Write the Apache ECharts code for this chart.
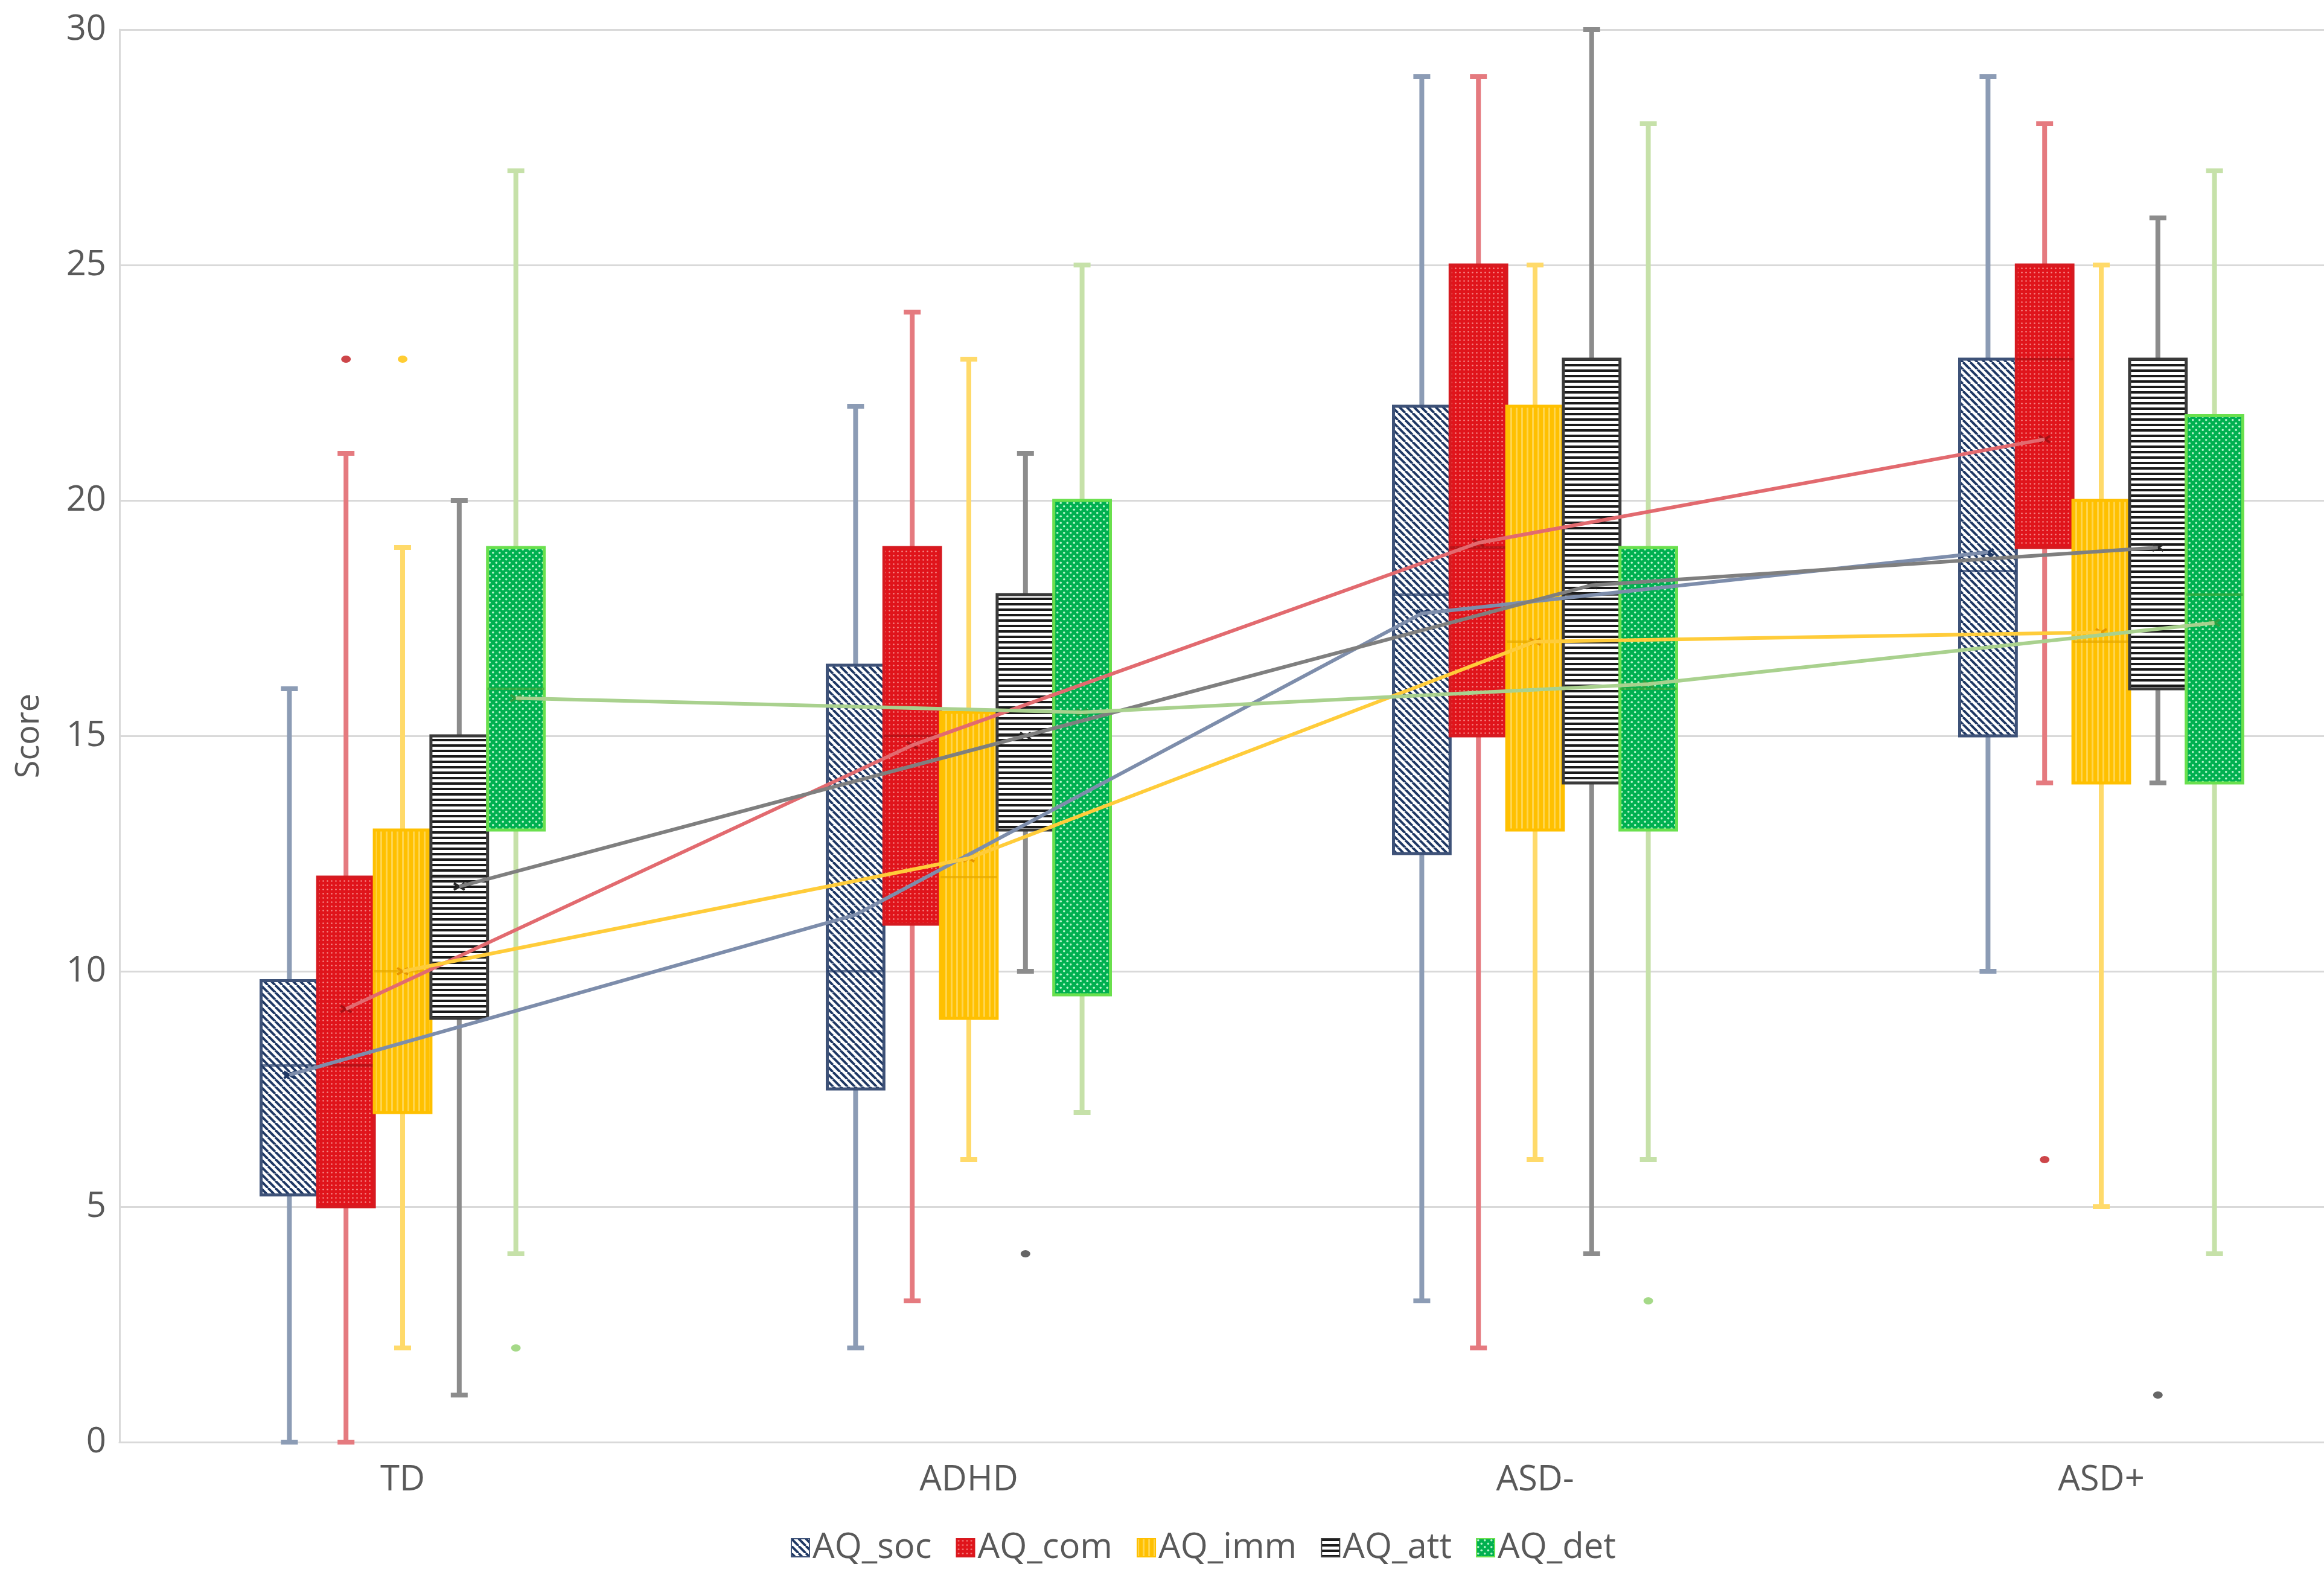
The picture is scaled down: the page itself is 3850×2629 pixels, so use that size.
<!DOCTYPE html>
<html>
<head>
<meta charset="utf-8">
<title>AQ subscales</title>
<script src="https://cdn.jsdelivr.net/npm/echarts/dist/echarts.min.js"></script>
<style>
  html, body { margin: 0; padding: 0; background: #fff; overflow: hidden; }
  #main { width: 3850px; height: 2629px; }
</style>
</head>
<body>
<div id="main"></div>
<script>
// 分组 / 子量表
var categories = ['TD', 'ADHD', 'ASD-', 'ASD+'];
var seriesNames = ['AQ_soc', 'AQ_com', 'AQ_imm', 'AQ_att', 'AQ_det'];

// 每组 [min, Q1, median, Q3, max]
var socBox = [[0, 5.25, 8, 9.8, 16], [2, 7.5, 10, 16.5, 22], [3, 12.5, 18, 22, 29], [10, 15, 18.5, 23, 29]];
var comBox = [[0, 5, 8, 12, 21], [3, 11, 15, 19, 24], [2, 15, 19, 25, 29], [14, 19, 23, 25, 28]];
var immBox = [[2, 7, 10, 13, 19], [6, 9, 12, 15.5, 23], [6, 13, 17, 22, 25], [5, 14, 17, 20, 25]];
var attBox = [[1, 9, 12, 15, 20], [10, 13, 15, 18, 21], [4, 14, 18, 23, 30], [14, 16, 20, 23, 26]];
var detBox = [[4, 13, 16, 19, 27], [7, 9.5, 15.5, 20, 25], [6, 13, 16, 19, 28], [4, 14, 18, 21.8, 27]];

// 均值
var socMean = [7.8, 11.2, 17.6, 18.9];
var comMean = [9.2, 14.8, 19.1, 21.3];
var immMean = [10.0, 12.4, 17.0, 17.2];
var attMean = [11.8, 15.0, 18.2, 19.0];
var detMean = [15.8, 15.5, 16.1, 17.4];

// 离群点 [组序号, 值]
var socOut = [];
var comOut = [[0, 23], [3, 6]];
var immOut = [[0, 23]];
var attOut = [[1, 4], [3, 1]];
var detOut = [[0, 2], [2, 3]];

var yTicks = { min: 0, max: 30, interval: 5 };

//生成填充纹理
function makePattern(kind, bg, fg) {
    var c = document.createElement('canvas'), ctx = c.getContext('2d'), s;
    if (kind == 'diag') {
        s = 12; c.width = c.height = s;
        ctx.fillStyle = bg; ctx.fillRect(0, 0, s, s);
        ctx.strokeStyle = fg; ctx.lineWidth = 4;
        [-s, 0, s].forEach(function (o) {
            ctx.beginPath(); ctx.moveTo(o, 0); ctx.lineTo(o + s, s); ctx.stroke();
        });
    } else if (kind == 'dots') {
        s = 7; c.width = c.height = s;
        ctx.fillStyle = bg; ctx.fillRect(0, 0, s, s);
        ctx.fillStyle = fg;
        ctx.beginPath(); ctx.arc(3.5, 3.5, 1.3, 0, Math.PI * 2); ctx.fill();
    } else if (kind == 'vstripe') {
        s = 9; c.width = c.height = s;
        ctx.fillStyle = bg; ctx.fillRect(0, 0, s, s);
        ctx.fillStyle = fg; ctx.fillRect(0, 0, 3, s);
    } else if (kind == 'hstripe') {
        s = 9; c.width = c.height = s;
        ctx.fillStyle = bg; ctx.fillRect(0, 0, s, s);
        ctx.fillStyle = fg; ctx.fillRect(0, 0, s, 4);
    } else {
        s = 11; c.width = c.height = s;
        ctx.fillStyle = bg; ctx.fillRect(0, 0, s, s);
        ctx.fillStyle = fg;
        ctx.beginPath(); ctx.arc(2.75, 2.75, 1.8, 0, Math.PI * 2); ctx.fill();
        ctx.beginPath(); ctx.arc(8.25, 8.25, 1.8, 0, Math.PI * 2); ctx.fill();
    }
    return { image: c, repeat: 'repeat' };
}

var looks = [
    { pattern: makePattern('diag', '#ffffff', '#1f3864'), border: '#3e5278', median: '#1f3864', whisker: '#8c9cb5', meanLine: '#7d8dab', mark: '#1f3864', dot: '#44546a' },
    { pattern: makePattern('dots', '#e0141b', '#f58a8a'), border: '#d61a20', median: '#a50f14', whisker: '#e57a7f', meanLine: '#e26a6f', mark: '#a50f14', dot: '#c0161c' },
    { pattern: makePattern('vstripe', '#ffc000', '#ffd54f'), border: '#ffc000', median: '#e6a800', whisker: '#ffda6a', meanLine: '#ffcc3a', mark: '#e69500', dot: '#ffc000' },
    { pattern: makePattern('hstripe', '#ffffff', '#1a1a1a'), border: '#3a3a3a', median: '#262626', whisker: '#8c8c8c', meanLine: '#7f7f7f', mark: '#262626', dot: '#404040' },
    { pattern: makePattern('diamond', '#00b050', '#b8f5cc'), border: '#6ae04e', median: '#38a838', whisker: '#c6e1a9', meanLine: '#a9d18e', mark: '#2e9e3e', dot: '#8fcf6a' }
];

var boxes = [socBox, comBox, immBox, attBox, detBox];
var means = [socMean, comMean, immMean, attMean, detMean];
var outs = [socOut, comOut, immOut, attOut, detOut];
var step = 0.1; // 每个箱子的宽度 (类目宽度的比例)

function boxRender(st) {
    return function (params, api) {
        var x = api.value(0),
            w = api.size([step, 0])[0],
            pMin = api.coord([x, api.value(1)]),
            pQ1 = api.coord([x, api.value(2)]),
            pMed = api.coord([x, api.value(3)]),
            pQ3 = api.coord([x, api.value(4)]),
            pMax = api.coord([x, api.value(5)]),
            pMean = api.coord([x, api.value(6)]),
            cx = pMed[0], cap = 14, m = 9;
        var wStyle = { stroke: st.whisker, lineWidth: 8 };
        return {
            type: 'group',
            children: [
                { type: 'line', shape: { x1: cx, y1: pMax[1], x2: cx, y2: pMin[1] }, style: wStyle },
                { type: 'line', shape: { x1: cx - cap, y1: pMax[1], x2: cx + cap, y2: pMax[1] }, style: wStyle },
                { type: 'line', shape: { x1: cx - cap, y1: pMin[1], x2: cx + cap, y2: pMin[1] }, style: wStyle },
                { type: 'rect', shape: { x: cx - w / 2, y: pQ3[1], width: w, height: pQ1[1] - pQ3[1] },
                  style: { fill: st.pattern, stroke: st.border, lineWidth: 5 } },
                { type: 'line', shape: { x1: cx - w / 2, y1: pMed[1], x2: cx + w / 2, y2: pMed[1] },
                  style: { stroke: st.median, lineWidth: 4, opacity: 0.7 } },
                { type: 'line', shape: { x1: cx - m, y1: pMean[1] - m * 0.6, x2: cx + m, y2: pMean[1] + m * 0.6 },
                  style: { stroke: st.mark, lineWidth: 4 } },
                { type: 'line', shape: { x1: cx - m, y1: pMean[1] + m * 0.6, x2: cx + m, y2: pMean[1] - m * 0.6 },
                  style: { stroke: st.mark, lineWidth: 4 } }
            ]
        };
    };
}

var series = [];
seriesNames.forEach(function (name, s) {
    var off = (s - 2) * step, st = looks[s];
    series.push({
        name: name,
        type: 'custom',
        xAxisIndex: 1,
        z: 2,
        clip: false,
        renderItem: boxRender(st),
        itemStyle: { color: st.pattern, borderColor: st.border, borderWidth: 1 },
        data: boxes[s].map(function (b, i) { return [i + off].concat(b, [means[s][i]]); })
    });
});
seriesNames.forEach(function (name, s) {
    var off = (s - 2) * step, st = looks[s];
    series.push({
        name: name + ' 均值',
        type: 'line',
        xAxisIndex: 1,
        z: 5,
        symbol: 'none',
        lineStyle: { color: st.meanLine, width: 6 },
        data: means[s].map(function (v, i) { return [i + off, v]; })
    });
    series.push({
        name: name + ' 离群',
        type: 'scatter',
        xAxisIndex: 1,
        z: 4,
        symbol: 'circle',
        symbolSize: [16, 12],
        itemStyle: { color: st.dot },
        data: outs[s].map(function (p) { return [p[0] + off, p[1]]; })
    });
});

var font = 'Open Sans';
var myChart = echarts.init(document.getElementById('main'));
var option = {
    backgroundColor: '#ffffff',
    animation: false,
    textStyle: { fontFamily: font },
    // 右侧被截掉一部分, 所以宽度超出画布
    grid: { left: 198, width: 3752, top: 49, height: 2340, containLabel: false, outerBoundsMode: 'none' },
    legend: {
        data: seriesNames,
        left: 1305,
        top: 2530,
        icon: 'rect',
        itemWidth: 30,
        itemHeight: 30,
        itemGap: 40,
        textStyle: { fontSize: 58, color: '#595959', fontFamily: font }
    },
    xAxis: [
        {
            type: 'category',
            data: categories,
            boundaryGap: true,
            axisTick: { show: false },
            axisLine: { show: true, onZero: false, lineStyle: { color: '#d9d9d9', width: 3 } },
            axisLabel: { fontSize: 58, color: '#595959', margin: 34 }
        },
        {
            type: 'value',
            min: -0.5,
            max: 3.5,
            show: false,
            axisLine: { onZero: false },
            splitLine: { show: false }
        }
    ],
    yAxis: {
        type: 'value',
        min: yTicks.min,
        max: yTicks.max,
        interval: yTicks.interval,
        name: 'Score',
        nameLocation: 'middle',
        nameGap: 122,
        nameTextStyle: { fontSize: 54, color: '#595959' },
        axisLine: { show: true, onZero: false, lineStyle: { color: '#d9d9d9', width: 3 } },
        axisTick: { show: false },
        axisLabel: { fontSize: 58, color: '#595959', margin: 22 },
        splitLine: { lineStyle: { color: '#d9d9d9', width: 3 } }
    },
    series: series
};
myChart.setOption(option);
</script>
</body>
</html>
